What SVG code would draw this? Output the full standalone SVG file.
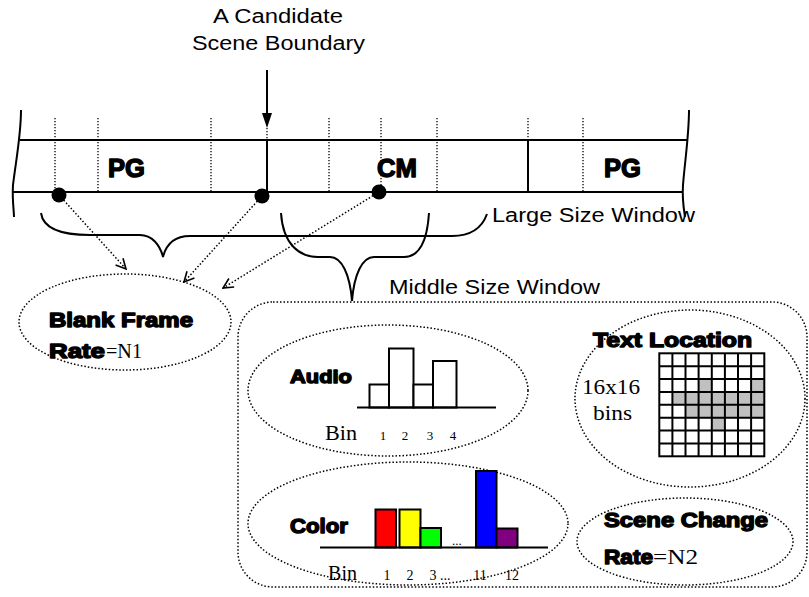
<svg xmlns="http://www.w3.org/2000/svg" width="809" height="597" viewBox="0 0 809 597">
  <defs>
    <style>
      .ln { fill: none; stroke: #000; stroke-width: 2; }
      .dot { fill: none; stroke: #000; stroke-width: 1.5; stroke-dasharray: 1.5 2; }
      .vdot { fill: none; stroke: #000; stroke-width: 1.3; stroke-dasharray: 1.3 1.7; }
      .sans { font-family: "Liberation Sans", Arial, sans-serif; font-size: 20px; fill: #000; }
      .heavy { font-family: "Liberation Sans", Arial, sans-serif; font-weight: bold; fill: #000; stroke: #000; stroke-width: 1.4; stroke-linejoin: round; }
      .serif { font-family: "Liberation Serif", "Times New Roman", serif; fill: #000; }
      .bar { stroke: #000; stroke-width: 2; }
    </style>
    <marker id="openArrow" viewBox="0 0 12 12" refX="11" refY="6" markerWidth="12" markerHeight="12" markerUnits="userSpaceOnUse" orient="auto">
      <path d="M1,1 L11,6 L1,11" fill="none" stroke="#000" stroke-width="1.6"/>
    </marker>
  </defs>

  <!-- boundary label and its pointer -->
  <g id="boundary-label">
    <text class="sans" x="213" y="23" textLength="130" lengthAdjust="spacingAndGlyphs">A Candidate</text>
    <text class="sans" x="192" y="50" textLength="173" lengthAdjust="spacingAndGlyphs">Scene Boundary</text>
    <line class="ln" x1="267" y1="70" x2="267" y2="114"/>
    <polygon points="262,113 272,113 267,128" fill="#000"/>
  </g>

  <!-- film strip -->
  <g id="strip">
    <path class="ln" d="M21,110 C21,135 16,160 13,185 C12,200 14,210 14,217"/>
    <path class="ln" d="M689,110 C689,135 685,160 683,185 C682,200 684,210 685,217"/>
    <line class="ln" x1="20" y1="140" x2="688" y2="140"/>
    <line class="ln" x1="13" y1="192" x2="683" y2="192"/>
    <g class="vdot">
      <line x1="55" y1="118" x2="55" y2="191"/>
      <line x1="98" y1="118" x2="98" y2="191"/>
      <line x1="211" y1="118" x2="211" y2="191"/>
      <line x1="329" y1="118" x2="329" y2="191"/>
      <line x1="381" y1="118" x2="381" y2="191"/>
      <line x1="437" y1="118" x2="437" y2="191"/>
      <line x1="583" y1="118" x2="583" y2="191"/>
      <line x1="528" y1="118" x2="528" y2="140"/>
      <line x1="267" y1="128" x2="267" y2="140"/>
    </g>
    <line class="ln" x1="267" y1="140" x2="267" y2="192"/>
    <line class="ln" x1="528" y1="140" x2="528" y2="192"/>
    <text class="heavy" x="108" y="177" font-size="26" textLength="37" lengthAdjust="spacingAndGlyphs">PG</text>
    <text class="heavy" x="377" y="177" font-size="26" textLength="40" lengthAdjust="spacingAndGlyphs">CM</text>
    <text class="heavy" x="604" y="177" font-size="26" textLength="37" lengthAdjust="spacingAndGlyphs">PG</text>
    <circle cx="59" cy="195" r="7.5" fill="#000"/>
    <circle cx="262" cy="196" r="7.5" fill="#000"/>
    <circle cx="379" cy="192" r="7.5" fill="#000"/>
  </g>

  <!-- window braces -->
  <g id="large-window">
    <path class="ln" d="M41,213 C43,228 60,235 90,235 L140,235 C152,235 160,245 163,257 C166,245 174,236 190,236 L452,236 C470,236 482,228 487,214"/>
    <text class="sans" x="492" y="222" textLength="203" lengthAdjust="spacingAndGlyphs">Large Size Window</text>
  </g>
  <g id="middle-window">
    <path class="ln" d="M281,213 C283,245 300,257 318,257 L330,257 C342,257 350,275 352,301 C354,275 362,257 374,257 L404,257 C418,257 427,245 429,213"/>
    <text class="sans" x="389" y="294" textLength="211" lengthAdjust="spacingAndGlyphs">Middle Size Window</text>
  </g>

  <!-- dotted pointers from the frames to the blank-frame feature -->
  <g id="connectors" class="dot" marker-end="url(#openArrow)">
    <line x1="59" y1="195" x2="126" y2="269"/>
    <line x1="262" y1="196" x2="184" y2="282"/>
    <line x1="379" y1="192" x2="223" y2="288"/>
  </g>

  <!-- blank frame feature -->
  <g id="blank-frame">
    <ellipse class="dot" cx="125" cy="322" rx="106" ry="48"/>
    <text class="heavy" x="49" y="327" font-size="20" textLength="144" lengthAdjust="spacingAndGlyphs">Blank Frame</text>
    <text class="heavy" x="49" y="358" font-size="20" textLength="56" lengthAdjust="spacingAndGlyphs">Rate</text>
    <text class="serif" x="106" y="358" font-size="21" textLength="36" lengthAdjust="spacingAndGlyphs">=N1</text>
  </g>

  <!-- middle window feature panel -->
  <g id="middle-panel">
    <rect class="dot" x="238" y="302" width="569" height="285" rx="35" ry="35"/>
  </g>

  <!-- audio histogram -->
  <g id="audio">
    <ellipse class="dot" cx="388" cy="390.5" rx="140" ry="65.5"/>
    <text class="heavy" x="290" y="383" font-size="19" textLength="62" lengthAdjust="spacingAndGlyphs">Audio</text>
    <rect class="bar" x="369.5" y="384.5" width="19.5" height="23" fill="#fff"/>
    <rect class="bar" x="389" y="348.5" width="24.5" height="59" fill="#fff"/>
    <rect class="bar" x="413.5" y="384.5" width="19.5" height="23" fill="#fff"/>
    <rect class="bar" x="433" y="361" width="23.5" height="46.5" fill="#fff"/>
    <line class="ln" x1="357" y1="407.5" x2="496" y2="407.5"/>
    <text class="serif" x="325" y="440" font-size="21" textLength="32" lengthAdjust="spacingAndGlyphs">Bin</text>
    <g class="serif" font-size="13" text-anchor="middle">
      <text x="383" y="440">1</text>
      <text x="405" y="440">2</text>
      <text x="430" y="440">3</text>
      <text x="453" y="440">4</text>
    </g>
  </g>

  <!-- text location grid -->
  <g id="text-location">
    <ellipse class="dot" cx="690" cy="398.5" rx="115" ry="88.5"/>
    <text class="heavy" x="593" y="347" font-size="20" textLength="159" lengthAdjust="spacingAndGlyphs">Text Location</text>
    <text class="serif" x="582" y="394" font-size="21" textLength="58" lengthAdjust="spacingAndGlyphs">16x16</text>
    <text class="serif" x="593" y="420" font-size="21" textLength="39" lengthAdjust="spacingAndGlyphs">bins</text>
    <g fill="#c0c0c0">
      <rect x="698.4" y="378.9" width="13.1" height="12.9"/>
      <rect x="750.9" y="378.9" width="13.1" height="12.9"/>
      <rect x="672.2" y="391.8" width="91.8" height="12.9"/>
      <rect x="685.3" y="404.7" width="78.7" height="12.9"/>
      <rect x="711.5" y="417.6" width="13.1" height="12.9"/>
    </g>
    <g class="ln" stroke-width="2.4">
      <rect x="659.3" y="353.3" width="105" height="103"/>
      <line x1="672.4" y1="353.3" x2="672.4" y2="456.3"/>
      <line x1="685.5" y1="353.3" x2="685.5" y2="456.3"/>
      <line x1="698.6" y1="353.3" x2="698.6" y2="456.3"/>
      <line x1="711.8" y1="353.3" x2="711.8" y2="456.3"/>
      <line x1="724.9" y1="353.3" x2="724.9" y2="456.3"/>
      <line x1="738.0" y1="353.3" x2="738.0" y2="456.3"/>
      <line x1="751.1" y1="353.3" x2="751.1" y2="456.3"/>
      <line x1="659.3" y1="366.2" x2="764.3" y2="366.2"/>
      <line x1="659.3" y1="379.1" x2="764.3" y2="379.1"/>
      <line x1="659.3" y1="391.9" x2="764.3" y2="391.9"/>
      <line x1="659.3" y1="404.8" x2="764.3" y2="404.8"/>
      <line x1="659.3" y1="417.7" x2="764.3" y2="417.7"/>
      <line x1="659.3" y1="430.6" x2="764.3" y2="430.6"/>
      <line x1="659.3" y1="443.4" x2="764.3" y2="443.4"/>
    </g>
  </g>

  <!-- color histogram -->
  <g id="color">
    <ellipse class="dot" cx="408" cy="523.5" rx="160" ry="61.5"/>
    <text class="heavy" x="290" y="533" font-size="20" textLength="58" lengthAdjust="spacingAndGlyphs">Color</text>
    <rect class="bar" x="375.5" y="509.5" width="20.5" height="38" fill="#ff0000"/>
    <rect class="bar" x="399.5" y="509.5" width="21" height="38" fill="#ffff00"/>
    <rect class="bar" x="420.5" y="528" width="20.5" height="19.5" fill="#00ff00"/>
    <rect class="bar" x="476" y="471" width="20.5" height="76.5" fill="#0000ff"/>
    <rect class="bar" x="496.5" y="528.5" width="21" height="19" fill="#800080"/>
    <line class="ln" x1="320" y1="547.5" x2="548" y2="547.5"/>
    <text class="serif" x="452" y="545" font-size="13">...</text>
    <text class="serif" x="328" y="580" font-size="20" textLength="29" lengthAdjust="spacingAndGlyphs">Bin</text>
    <g class="serif" font-size="14" text-anchor="middle">
      <text x="387" y="580">1</text>
      <text x="410" y="580">2</text>
      <text x="433" y="580">3</text>
      <text x="480" y="580">11</text>
      <text x="512" y="580">12</text>
    </g>
    <text class="serif" x="440" y="580" font-size="14">...</text>
  </g>

  <!-- scene change rate -->
  <g id="scene-change">
    <ellipse class="dot" cx="685" cy="541.5" rx="108" ry="43.5"/>
    <text class="heavy" x="604" y="527" font-size="20" textLength="164" lengthAdjust="spacingAndGlyphs">Scene Change</text>
    <text class="heavy" x="604" y="564" font-size="20" textLength="49" lengthAdjust="spacingAndGlyphs">Rate</text>
    <text class="serif" x="653" y="564" font-size="21" textLength="45" lengthAdjust="spacingAndGlyphs">=N2</text>
  </g>
</svg>
